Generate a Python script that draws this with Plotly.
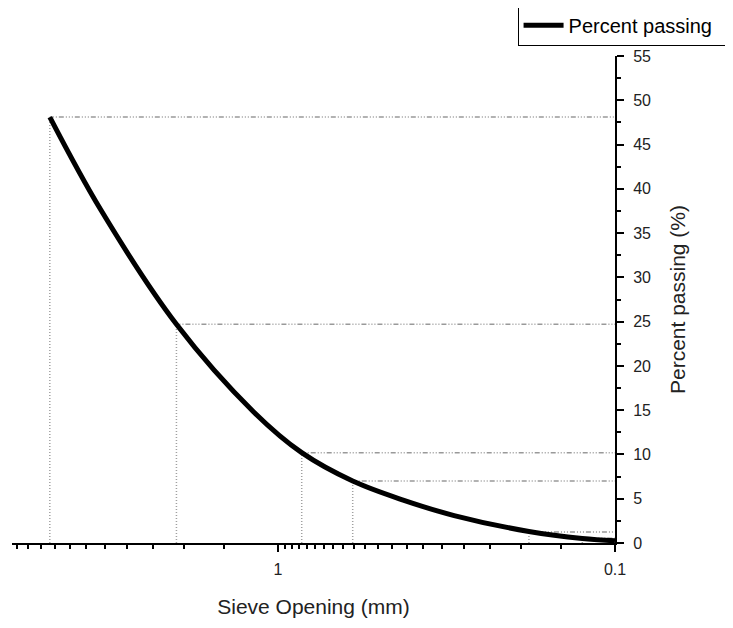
import plotly.graph_objects as go
import numpy as np

# Curve data (sieve opening mm, percent passing)
sieve_mm = [4.75, 3.35, 2.0, 1.18, 0.85, 0.6, 0.425, 0.3, 0.18, 0.125, 0.1]
passing = [48.1, 37.6, 24.7, 14.8, 10.2, 7.0, 4.85, 3.1, 1.3, 0.5, 0.25]

# Reference (projection) points
ref_x = [4.75, 2.0, 0.85, 0.6, 0.18, 0.125]
ref_y = [48.1, 24.7, 10.2, 7.0, 1.25, 0.55]

x_major = [1, 0.1]
x_major_text = ["1", "0.1"]
x_minor = [1 + 0.45 * k for k in range(1, 12)] + [0.1 + 0.045 * k for k in range(1, 20)]

y_ticks = list(range(0, 60, 5))

fig = go.Figure()

# dotted reference lines
for rx, ry in zip(ref_x, ref_y):
    fig.add_trace(go.Scatter(x=[rx, rx], y=[0, ry], mode="lines",
                             line=dict(color="#a0a0a0", width=1.5, dash="1px,2px"),
                             showlegend=False, hoverinfo="skip"))
    fig.add_trace(go.Scatter(x=[rx, 0.1], y=[ry, ry], mode="lines",
                             line=dict(color="#999999", width=1.5,
                                       dash="1px,2px,1px,2px,1px,2px,5px,2px"),
                             showlegend=False, hoverinfo="skip"))

fig.add_trace(go.Scatter(x=sieve_mm, y=passing, mode="lines",
                         line=dict(color="black", width=5, shape="spline", smoothing=1.0),
                         name="Percent passing"))

fig.update_layout(
    width=733, height=628,
    margin=dict(l=4, r=126, t=48, b=93, autoexpand=False),
    paper_bgcolor="white", plot_bgcolor="white",
    font=dict(family="Liberation Sans", color="#222222"),
    showlegend=True,
    legend=dict(orientation="h", x=1.19, xanchor="right", y=1.105, yanchor="top",
                bordercolor="black", borderwidth=1, bgcolor="white",
                font=dict(size=20, color="black"),
                itemwidth=40, tracegroupgap=0, entrywidth=155, entrywidthmode="pixels"),
    xaxis=dict(type="log", range=[np.log10(6.15), -1], showgrid=False,
               zeroline=False, showline=True, linecolor="black", linewidth=2,
               tickmode="array", tickvals=x_major, ticktext=x_major_text,
               ticks="outside", ticklen=7, tickwidth=2, tickcolor="black",
               tickfont=dict(size=16), ticklabelstandoff=4,
               minor=dict(tickmode="array", tickvals=x_minor, ticks="outside",
                          ticklen=4, tickwidth=2, tickcolor="black", showgrid=False),
               title=dict(text="Sieve Opening (mm)", font=dict(size=21), standoff=22)),
    yaxis=dict(range=[0, 55], side="right", showgrid=False, zeroline=False,
               showline=True, linecolor="black", linewidth=2,
               tickmode="array", tickvals=y_ticks,
               ticks="outside", ticklen=7, tickwidth=2, tickcolor="black",
               tickfont=dict(size=16), ticklabelstandoff=6,
               minor=dict(dtick=2.5, ticks="outside", ticklen=4, tickwidth=2,
                          tickcolor="black", showgrid=False),
               title=dict(text="Percent passing (%)", font=dict(size=21), standoff=20)),
)

fig.write_html("out.html")
